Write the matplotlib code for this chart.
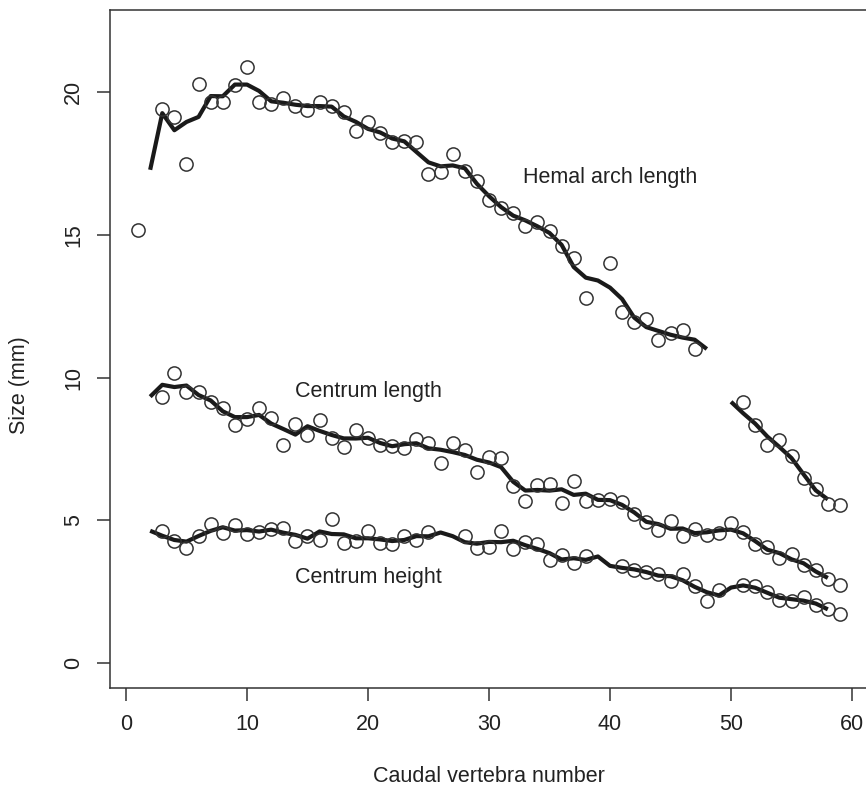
import numpy as np
import matplotlib
matplotlib.use("Agg")
import matplotlib.pyplot as plt

plt.rcParams['font.family'] = ['Liberation Sans', 'DejaVu Sans']

nan = np.nan
vertebra = list(range(1, 60))

hemal_arch_length = [
    15.16, nan, 19.40, 19.13, 17.47, 20.27, 19.66, 19.66, 20.25, 20.89,
    19.66, 19.58, 19.80, 19.51, 19.37, 19.66, 19.51, 19.31, 18.63, 18.94,
    18.57, 18.26, 18.30, 18.27, 17.15, 17.20, 17.85, 17.25, 16.90, 16.22,
    15.95, 15.75, 15.32, 15.45, 15.13, 14.62, 14.20, 12.80, nan, 14.00,
    12.30, 11.95, 12.05, 11.30, 11.55, 11.65, 11.00, nan, nan, nan,
    9.15, 8.35, 7.65, 7.80, 7.25, 6.48, 6.09, 5.57, 5.53,
]

centrum_length = [
    nan, nan, 9.33, 10.16, 9.51, 9.49, 9.16, 8.94, 8.35, 8.55,
    8.94, 8.58, 7.64, 8.37, 7.99, 8.52, 7.88, 7.56, 8.16, 7.87,
    7.64, 7.61, 7.53, 7.85, 7.71, 7.00, 7.70, 7.46, 6.70, 7.20,
    7.17, 6.21, 5.66, 6.25, 6.27, 5.59, 6.39, 5.68, 5.72, 5.74,
    5.65, 5.22, 4.95, 4.66, 4.98, 4.46, 4.69, 4.49, 4.55, 4.89,
    4.57, 4.16, 4.07, 3.67, 3.80, 3.42, 3.25, 2.94, 2.74,
]

centrum_height = [
    nan, nan, 4.63, 4.28, 4.01, 4.46, 4.87, 4.55, 4.84, 4.52,
    4.60, 4.69, 4.72, 4.28, 4.46, 4.32, 5.04, 4.19, 4.28, 4.63,
    4.19, 4.16, 4.46, 4.30, 4.57, nan, nan, 4.44, 4.02, 4.07,
    4.63, 3.99, 4.22, 4.16, 3.60, 3.78, 3.49, 3.73, nan, nan,
    3.40, 3.26, 3.17, 3.12, 2.88, 3.11, 2.70, 2.18, 2.55, nan,
    2.73, 2.70, 2.47, 2.20, 2.18, 2.32, 2.04, 1.88, 1.71,
]

series_labels = ["Hemal arch length", "Centrum length", "Centrum height"]
label_x = [40, 20, 20]
label_y = [17, 9.5, 3]


def running_mean(values):
    v = np.asarray(values, dtype=float)
    out = np.full(v.shape, np.nan)
    for i in range(1, len(v) - 1):
        w = v[i - 1:i + 2]
        w = w[~np.isnan(w)]
        if len(w):
            out[i] = w.mean()
    return out


fig = plt.figure(figsize=(8.66, 7.91), dpi=100)
W, H = 866, 791
ax = fig.add_axes([110 / W, 1 - 688 / H, 758 / W, 678 / H])

x = np.array(vertebra)
ink = "#222222"
for series in (hemal_arch_length, centrum_length, centrum_height):
    ax.plot(x, running_mean(series), color="#1a1a1a", lw=3.0,
            solid_joinstyle="round", solid_capstyle="butt", zorder=2)
    ax.plot(x, series, linestyle="none", marker="o", markersize=9.5,
            markerfacecolor="none", markeredgecolor="#333333",
            markeredgewidth=1.1, zorder=3)

for lab, lx, ly in zip(series_labels, label_x, label_y):
    ax.text(lx, ly, lab, ha="center", va="center", fontsize=15.5, color=ink)

ax.set_xlim(-1.32, 61.32)
ax.set_ylim(-0.88, 22.88)
ax.set_xticks([0, 10, 20, 30, 40, 50, 60])
ax.set_yticks([0, 5, 10, 15, 20])
ax.tick_params(direction="out", length=9.5, width=1.1, color="#333333",
               labelsize=15.5, labelcolor=ink, pad=9)
for lab in ax.get_yticklabels():
    lab.set_rotation(90)
    lab.set_va("center")
for s in ax.spines.values():
    s.set_color("#333333")
    s.set_linewidth(1.1)

fig.text(489 / W, 1 - 776 / H, "Caudal vertebra number", ha="center",
         va="center", fontsize=15.5, color=ink)
fig.text(20 / W, 1 - 385 / H, "Size (mm)", ha="center", va="center",
         rotation=90, fontsize=15.5, color=ink)

fig.savefig("out.png", dpi=100)
